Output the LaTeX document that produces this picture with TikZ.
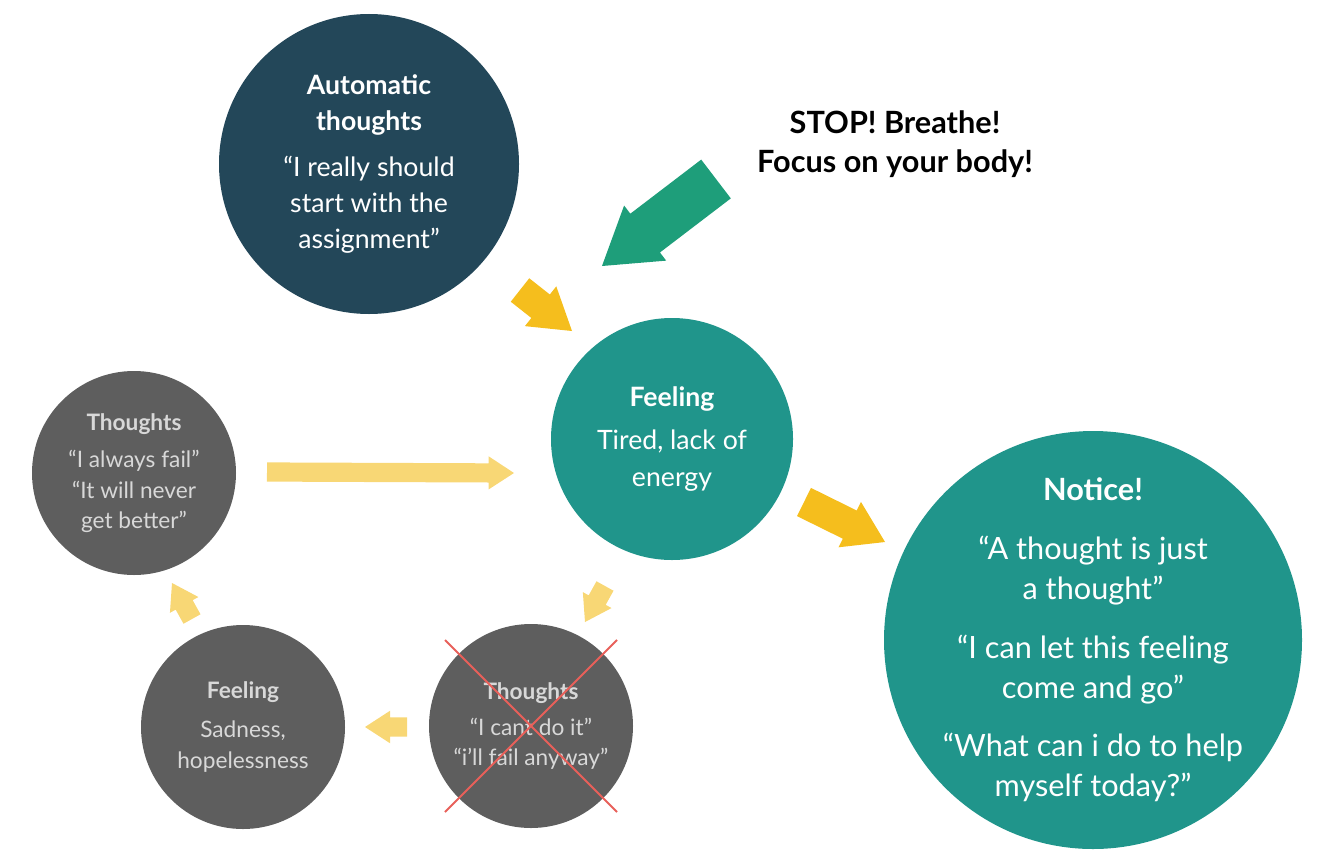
\documentclass[tikz,border=0pt]{standalone}
\usepackage{fontspec}
\setmainfont{Lato}
\usetikzlibrary{calc}
\definecolor{navy}{HTML}{234759}
\definecolor{tealmid}{HTML}{20958B}
\definecolor{greenarr}{HTML}{1E9E7A}
\definecolor{yellowarr}{HTML}{F5BE1D}
\definecolor{paleyellow}{HTML}{F8D775}
\definecolor{graycirc}{HTML}{5E5E5E}
\definecolor{graytext}{HTML}{D8D8D8}
\definecolor{crossred}{HTML}{E8605A}
% block arrow: colour, tail, tip, half shaft, half head, head length
\newcommand\fatarrow[6]{%
  \coordinate (fa-h) at ($(#3)!#6!(#2)$);
  \fill[#1] ($(#2)!#4!90:(#3)$) -- ($(fa-h)!#4!90:(#3)$) -- ($(fa-h)!#5!90:(#3)$) -- (#3)
    -- ($(fa-h)!#5!-90:(#3)$) -- ($(fa-h)!#4!-90:(#3)$) -- ($(#2)!#4!-90:(#3)$) -- cycle;}

\begin{document}
\begin{tikzpicture}[x=0.75pt,y=-0.75pt,
  bubble/.style={circle,inner sep=0pt,align=center},
  big/.style={font=\fontsize{20}{27}\selectfont},
  small/.style={font=\fontsize{17}{23}\selectfont}]
\useasboundingbox (0,0) rectangle (1333,867);

% coloured circles
\node[bubble,big,fill=navy,text=white,minimum size=225pt] (auto) at (369,164)
  {\textbf{Automatic}\\\textbf{thoughts}\\[7pt]“I really should\\start with the\\assignment”};
\node[bubble,fill=tealmid,text=white,minimum size=181.5pt,font=\fontsize{20}{28}\selectfont] (feel) at (672,439)
  {\textbf{Feeling}\\[4pt]Tired, lack of\\energy};
\node[bubble,fill=tealmid,text=white,minimum size=313.5pt,inner sep=-20pt,font=\fontsize{23}{30}\selectfont] (notice) at (1093,640)
  {\textbf{Notice!}\\[14pt]“A thought is just\\a thought”\\[14pt]“I can let this feeling\\come and go”\\[14pt]“What can i do to help\\myself today?”};

% grey circles
\node[bubble,small,fill=graycirc,text=graytext,minimum size=153pt] (t1) at (134,473)
  {\textbf{Thoughts}\\[5pt]“I always fail”\\“It will never\\get better”};
\node[bubble,small,fill=graycirc,text=graytext,minimum size=153pt] (f2) at (243,727)
  {\textbf{Feeling}\\[6pt]Sadness,\\hopelessness};
\node[bubble,small,fill=graycirc,text=graytext,minimum size=153pt] (t2) at (531,726)
  {\textbf{Thoughts}\\[4pt]“I cant do it”\\“i’ll fail anyway”};
\draw[crossred,line width=1.5pt] ($(t2)+(-86,-86)$) -- ($(t2)+(86,86)$);
\draw[crossred,line width=1.5pt] ($(t2)+(86,-86)$) -- ($(t2)+(-86,86)$);

\node[font=\fontsize{23}{29}\selectfont\bfseries,align=center] (stop) at (895,144)
  {STOP! Breathe!\\Focus on your body!};

% arrows
\coordinate (g1) at (716,179);  \coordinate (g2) at (602,266);
\coordinate (y1) at (520,290);  \coordinate (y2) at (572,331);
\coordinate (y3) at (804,502);  \coordinate (y4) at (885,542);
\coordinate (p1) at (267,472);  \coordinate (p2) at (514,473);
\coordinate (p3) at (605,586);  \coordinate (p4) at (585,622);
\coordinate (p5) at (407,727);  \coordinate (p6) at (365,727);
\coordinate (p7) at (192,619);  \coordinate (p8) at (172,583);
\fatarrow{greenarr}{g1}{g2}{18.3pt}{26pt}{40.7pt}
\fatarrow{yellowarr}{y1}{y2}{11.2pt}{19pt}{30pt}
\fatarrow{yellowarr}{y3}{y4}{11.8pt}{19pt}{29.5pt}
\fatarrow{paleyellow}{p1}{p2}{7.2pt}{12.4pt}{19pt}
\fatarrow{paleyellow}{p3}{p4}{7.3pt}{12.3pt}{18.8pt}
\fatarrow{paleyellow}{p5}{p6}{7.3pt}{12.2pt}{18.8pt}
\fatarrow{paleyellow}{p7}{p8}{7.3pt}{12.2pt}{18.8pt}
\end{tikzpicture}
\end{document}
